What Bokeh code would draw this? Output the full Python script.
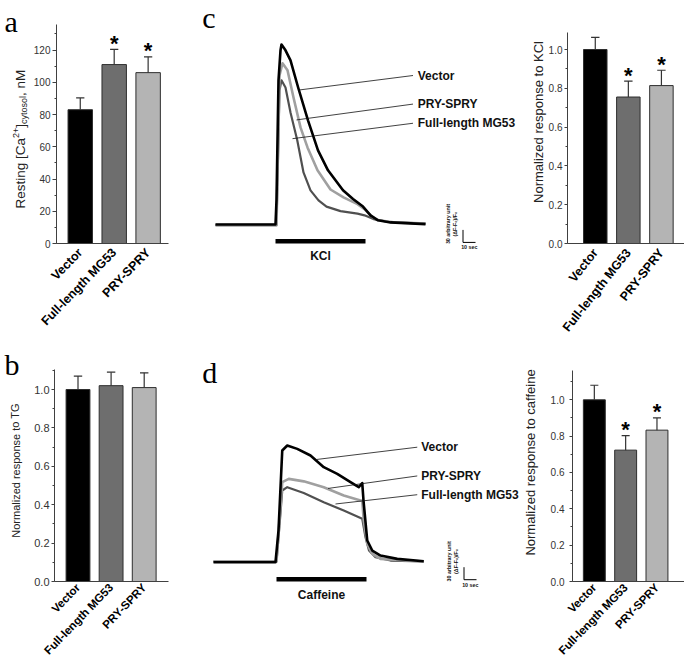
import math
from bokeh.plotting import figure
from bokeh.layouts import column, row
from bokeh.models import Range1d, FixedTicker, SingleIntervalTicker, PrintfTickFormatter, LinearAxis
from bokeh.embed import file_html
from bokeh.resources import INLINE
from bokeh.core.properties import value

SANS = "Liberation Sans"
SERIF = "Liberation Serif"

# ---------------- data ----------------
groups = ["Vector", "Full-length MG53", "PRY-SPRY"]
positions = [1, 2, 3]
bar_colors = ["#000000", "#6e6e6e", "#b4b4b4"]

resting_ca = [83, 111, 106]
resting_ca_err = [7.3, 9.4, 9.8]
resting_sig = [False, True, True]

tg_resp = [1.00, 1.02, 1.01]
tg_err = [0.07, 0.07, 0.077]
tg_sig = [False, False, False]

kcl_resp = [1.00, 0.755, 0.814]
kcl_err = [0.063, 0.082, 0.079]
kcl_sig = [False, True, True]

caf_resp = [1.00, 0.723, 0.833]
caf_err = [0.08, 0.08, 0.067]
caf_sig = [False, True, True]

# KCl traces: time (s), response (arbitrary units)
kcl_t_vector = [-48, 0, 0.8, 2.4, 4, 4.8, 8, 12, 18, 26, 34, 42, 54, 62, 70, 76, 82, 92, 120]
kcl_v_vector = [0, 0, 58, 346, 418, 432, 418, 394, 330, 250, 178, 130, 82, 61, 43, 22, 10, 5, 1]
kcl_t_pry = [-48, 0.8, 3.2, 5.6, 9.6, 14.4, 20, 25.6, 33.6, 44, 54.4, 65.6, 71.2, 77.6, 82.4, 96, 120]
kcl_v_pry = [-2, -2, 358, 387, 370, 305, 233, 185, 130, 84, 65, 49, 37, 18, 10, 5, 2]
kcl_t_fl = [-48, 0.8, 3.2, 4.8, 8, 12, 17.4, 22.4, 28, 34.4, 40.8, 52, 65.6, 71.2, 78.4, 92, 120]
kcl_v_fl = [-1, -1, 322, 346, 329, 269, 202, 125, 82, 58, 43, 32, 26, 22, 13, 5.5, 2]

# Caffeine traces
caf_t_vector = [-50.4, -0.8, 1.6, 4.6, 8.6, 16.6, 27.2, 37.8, 48.6, 59.2, 65.8, 68.6, 69.6, 72.6, 76.6, 83.2, 96.6, 117.8]
caf_v_vector = [0, 0, 76, 268, 280, 272, 256, 228, 212, 192, 180, 190, 148, 52, 28, 16, 8, 2.4]
caf_t_pry = [-50.4, 0, 2.4, 4.6, 9.8, 21.8, 37.8, 53.8, 67.2, 68.6, 69.8, 72.6, 76.6, 83.2, 117.8]
caf_v_pry = [2.4, 2.4, 100, 192, 200, 194, 180, 160, 148, 148, 100, 44, 20, 8, 1.7]
caf_t_fl = [-50.4, 0, 2.4, 4.6, 8.6, 21.8, 37.8, 53.8, 68.6, 71.2, 74, 79.2, 91.2, 117.8]
caf_v_fl = [1.2, 1.2, 88, 172, 180, 166, 144, 124, 104, 60, 28, 12, 4, 1.7]

stim_start, stim_end = 0, 72
scale_dt, scale_dv = 10, 30

trace_names = ["Vector", "PRY-SPRY", "Full-length MG53"]
trace_colors = {"Vector": "#000000", "PRY-SPRY": "#a0a0a0", "Full-length MG53": "#505050"}
trace_widths = {"Vector": 2.6, "PRY-SPRY": 2.6, "Full-length MG53": 2.2}

kcl_leader_from = [(19.4, 323), (16.8, 251), (13.6, 206)]
kcl_label_v = [357.6, 289, 243]
caf_leader_from = [(32, 246.5), (41.2, 177), (47.2, 139.7)]
caf_label_v = [276, 207, 162]

# ---------------- layout constants ----------------
H1, H2 = 343, 322          # row heights
B1, B2 = 100, 84           # bottom borders (x-axis label room) per row
W_HELP, W_BAR1, W_TR, W_BAR2 = 30, 155, 334, 165
L1, R1 = 24, 17            # left/right borders of first bar column
L2 = 48                    # left border of last bar column
FH1, FH2 = H1 - B1, H2 - B2


def style_common(p):
    p.xgrid.visible = False
    p.ygrid.visible = False
    p.outline_line_color = None
    p.background_fill_color = "white"
    p.border_fill_color = "white"


def make_bar(width, height, left, right, bottom, x_rng, y_end, y_bound, vals, errs, sig, bar_w, interval,
             fmt, ylabel, ylabel_size, ylabel_standoff, tick_size, tick_standoff, tick_out, label_angle,
             label_size, label_standoff):
    p = figure(width=width, height=height, x_range=Range1d(*x_rng), y_range=Range1d(0, y_end),
               output_backend="svg", toolbar_location=None,
               min_border_left=left, min_border_right=right, min_border_top=0, min_border_bottom=bottom)
    style_common(p)
    fw = width - left - right
    fh = height - bottom
    ppx = fw / (x_rng[1] - x_rng[0])
    ppy = fh / y_end
    p.vbar(x=positions, top=vals, bottom=0, width=bar_w, fill_color=bar_colors,
           line_color="#2e2e2e", line_width=1)
    tops = [v + e for v, e in zip(vals, errs)]
    p.segment(x0=positions, y0=vals, x1=positions, y1=tops, line_color="#333333", line_width=1.2)
    cap = 4.2 / ppx
    p.segment(x0=[x - cap for x in positions], y0=tops, x1=[x + cap for x in positions], y1=tops,
              line_color="#333333", line_width=1.2)
    sx = [x for x, s in zip(positions, sig) if s]
    sy = [t + 6 / ppy for t, s in zip(tops, sig) if s]
    if sx:
        p.text(x=sx, y=sy, text=["*"] * len(sx), text_font=value(SANS), text_font_style="bold",
               text_font_size="22px", text_align="center", text_baseline="middle", text_color="black")
    xa = p.xaxis[0]
    xa.ticker = FixedTicker(ticks=positions)
    xa.major_label_overrides = {1: groups[0], 2: groups[1], 3: groups[2]}
    xa.major_label_orientation = label_angle
    xa.major_tick_line_color = None
    xa.minor_tick_line_color = None
    xa.major_tick_out = 0
    xa.major_tick_in = 0
    xa.major_label_text_font = SANS
    xa.major_label_text_font_style = "bold"
    xa.major_label_text_font_size = label_size
    xa.major_label_text_color = "black"
    xa.major_label_standoff = label_standoff
    xa.axis_line_color = "#404040"
    ya = p.yaxis[0]
    ya.ticker = SingleIntervalTicker(interval=interval, num_minor_ticks=2)
    ya.bounds = (0, y_bound)
    if fmt:
        ya.formatter = PrintfTickFormatter(format=fmt)
    ya.axis_line_color = "#404040"
    ya.major_tick_line_color = "#404040"
    ya.minor_tick_line_color = "#404040"
    ya.major_tick_out = tick_out
    ya.major_tick_in = 0
    ya.minor_tick_out = 2
    ya.minor_tick_in = 0
    ya.major_label_text_font = SANS
    ya.major_label_text_font_size = tick_size
    ya.major_label_text_color = "#333333"
    ya.major_label_standoff = tick_standoff
    if ylabel:
        ya.axis_label = ylabel
        ya.axis_label_text_font = SANS
        ya.axis_label_text_font_style = "normal"
        ya.axis_label_text_font_size = ylabel_size
        ya.axis_label_text_color = "#222222"
        ya.axis_label_standoff = ylabel_standoff
    return p


def make_helper(width, height, bottom):
    fh = height - bottom
    p = figure(width=width, height=height, x_range=Range1d(0, width), y_range=Range1d(0, fh),
               output_backend="svg", toolbar_location=None, x_axis_location=None, y_axis_location=None,
               min_border_left=0, min_border_right=0, min_border_top=0, min_border_bottom=bottom)
    style_common(p)
    return p


def letter(p, text, x, y):
    p.text(x=[x], y=[y], text=[text], text_font=value(SERIF), text_font_size="30px", text_color="black",
           text_baseline="alphabetic", text_align="left")


def axis_text(ax, tick, text, size, standoff):
    ax.ticker = FixedTicker(ticks=[tick])
    ax.major_label_overrides = {tick: text}
    ax.axis_line_color = None
    ax.major_tick_line_color = None
    ax.minor_tick_line_color = None
    ax.major_tick_out = 0
    ax.major_tick_in = 0
    ax.major_label_standoff = standoff
    ax.major_label_text_font = SANS
    ax.major_label_text_font_style = "bold"
    ax.major_label_text_font_size = size
    ax.major_label_text_color = "#111111"


def make_trace(width, height, bottom, x_rng, y_rng, series, stim_text, stim_standoff, label_t, leader_end_t,
               leader_from, label_v, scale_t0, scale_v0, bar_v):
    p = figure(width=width, height=height, x_range=Range1d(*x_rng), y_range=Range1d(*y_rng),
               output_backend="svg", toolbar_location=None, y_axis_location=None,
               min_border_left=0, min_border_right=0, min_border_top=0, min_border_bottom=bottom)
    style_common(p)
    for name in ["Full-length MG53", "PRY-SPRY", "Vector"]:
        t, v = series[name]
        p.line(t, v, line_color=trace_colors[name], line_width=trace_widths[name], line_join="round")
    for (t0, v0), lv in zip(leader_from, label_v):
        p.line([t0, leader_end_t], [v0, lv], line_color="#111111", line_width=0.8)
    p.text(x=[label_t] * 3, y=label_v, text=trace_names, text_font=value(SANS), text_font_style="bold",
           text_font_size="12px", text_align="left", text_baseline="middle", text_color="#111111")
    # stimulus bar
    p.line([stim_start, stim_end], [bar_v, bar_v], line_color="black", line_width=5, line_cap="butt")
    # scale bar
    p.line([scale_t0, scale_t0, scale_t0 + scale_dt], [scale_v0 + scale_dv, scale_v0, scale_v0],
           line_color="black", line_width=1)
    p.text(x=[scale_t0 - 12, scale_t0 - 6.5], y=[scale_v0 + 44, scale_v0 + 44],
           text=["30 arbitrary unit", "(\u0394F-F\u2080)/F\u2080"], angle=[math.pi / 2] * 2,
           text_font=value(SANS), text_font_style="bold", text_font_size="5.3px",
           text_align="center", text_baseline="middle", text_color="#111111")
    # texts below the frame as axis tick labels
    axis_text(p.xaxis[0], scale_t0 + scale_dt // 2, "10 sec", "5.3px", 0)
    ax2 = LinearAxis()
    p.add_layout(ax2, "below")
    axis_text(ax2, (stim_start + stim_end) // 2, stim_text, "12px", stim_standoff)
    return p


# ---------------- row 1 ----------------
ha = make_helper(W_HELP, H1, B1)
letter(ha, "a", 4, FH1 - 21)
pieces = [("Resting [Ca", 35.0, 0, "13.5px"), ("2+", 105.5, -5, "9px"), ("]", 115.8, 0, "13.5px"),
          ("cytosol", 119.6, 3, "9px"), (", nM", 147.6, 0, "13.5px")]
for txt, yy, dx, fs in pieces:
    ha.text(x=[20 + dx], y=[yy], text=[txt], angle=[math.pi / 2], text_font=value(SANS), text_font_size=fs,
            text_color="#222222", text_align="left", text_baseline="alphabetic")

pa = make_bar(W_BAR1, H1, L1, R1, B1, (0.30, 3.60), FH1 / 1.612, 136, resting_ca, resting_ca_err, resting_sig,
              0.72, 20, None, None, None, 0, "10px", 2, 4, 0.80, "12.5px", 7)

pct = make_trace(W_TR, H1, B1, (-72, 195.2), (-(FH1 - 224) * 2.4, 224 * 2.4),
                 {"Vector": (kcl_t_vector, kcl_v_vector), "PRY-SPRY": (kcl_t_pry, kcl_v_pry),
                  "Full-length MG53": (kcl_t_fl, kcl_v_fl)},
                 "KCl", -4, 113.8, 110, kcl_leader_from, kcl_label_v, 150, -43, -40.8)
letter(pct, "c", -58.6, 497.5)

pcb = make_bar(W_BAR2, H1, L2, 0, B1, (0.16, 3.698), FH1 / 194.0, 1.09, kcl_resp, kcl_err, kcl_sig,
               0.71, 0.2, "%.1f", "Normalized response to KCl", "13px", 0, "10px", 2, 3, 0.90, "12.5px", 7)

# ---------------- row 2 ----------------
hb = make_helper(W_HELP, H2, B2)
letter(hb, "b", 4, 217)
hb.text(x=[15], y=[111], text=["Normalized response to TG"], angle=[math.pi / 2], text_font=value(SANS),
        text_font_size="11px", text_color="#222222", text_align="center", text_baseline="middle")

pb = make_bar(W_BAR1, H2, L1, R1, B2, (0.29, 3.734), FH2 / 192.0, 1.104, tg_resp, tg_err, tg_sig,
              0.72, 0.2, "%.1f", None, None, 0, "11px", 2, 3, 0.80, "11.5px", 4)

base_d = 561.7 - H1   # baseline of caffeine traces below the top of row 2, in pixels
pdt = make_trace(W_TR, H2, B2, (-72.8, 194.4), (-(FH2 - base_d) * 2.4, base_d * 2.4),
                 {"Vector": (caf_t_vector, caf_v_vector), "PRY-SPRY": (caf_t_pry, caf_v_pry),
                  "Full-length MG53": (caf_t_fl, caf_v_fl)},
                 "Caffeine", -3, 115.8, 112.6, caf_leader_from, caf_label_v, 150, -42, -41.5)
letter(pdt, "d", -59.4, 456)

pdb = make_bar(W_BAR2, H2, L2, 0, B2, (0.303, 3.879), FH2 / 181.7, 1.163, caf_resp, caf_err, caf_sig,
               0.70, 0.2, "%.1f", "Normalized response to caffeine", "13px", 10, "10px", 5, 3, 0.80, "11.5px", 4)

layout = column(row(ha, pa, pct, pcb, spacing=0), row(hb, pb, pdt, pdb, spacing=0), spacing=0)
open("out.html", "w").write(file_html(layout, INLINE))
